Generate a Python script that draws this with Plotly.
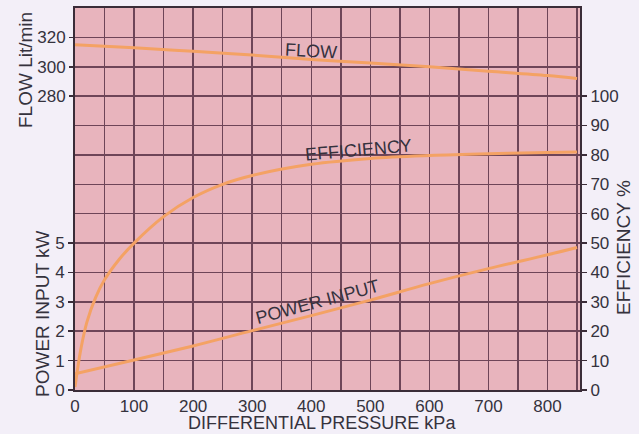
import plotly.graph_objects as go

# ---- data ----
flow_kpa = [0, 100, 200, 300, 400, 500, 600, 700, 800, 850]
flow_lpm = [315, 313, 310.5, 308, 305, 302.5, 300, 297, 294, 292]

eff_kpa = [0, 5, 10, 20, 35, 50, 75, 100, 150, 200, 250, 300, 400, 500, 600, 700, 800, 850]
eff_pct = [1, 8, 14, 23, 31.5, 37.5, 44.5, 50, 59, 65.5, 70, 73, 76.8, 78.8, 79.8, 80.4, 80.8, 81]

power_kpa = [0, 100, 200, 300, 400, 500, 600, 700, 800, 850]
power_kw = [0.55, 1.02, 1.5, 2.02, 2.53, 3.06, 3.62, 4.13, 4.6, 4.85]

x_grid = [0, 50, 100, 150, 200, 250, 300, 350, 400, 450, 500, 550, 600, 650, 700, 750, 800, 850]
x_labels = ["0", "", "100", "", "200", "", "300", "", "400", "", "500", "", "600", "",
            "700", "", "800", ""]
power_ticks = [0, 1, 2, 3, 4, 5]
flow_ticks = [280, 300, 320]
eff_ticks = [0, 10, 20, 30, 40, 50, 60, 70, 80, 90, 100]

# ---- styling ----
FONT = "Liberation Sans, Arial, Helvetica, sans-serif"
TXT = "#35323d"
BG = "#e8b4bd"
PAPER = "#f3eff8"
GRID = "#6e4558"
AXIS = "#3a2c38"
CURVE = "#f4a264"

fig = go.Figure()
fig.add_trace(go.Scatter(x=power_kpa, y=power_kw, mode="lines", yaxis="y",
                         line=dict(color=CURVE, width=3, shape="spline"), hoverinfo="skip"))
fig.add_trace(go.Scatter(x=flow_kpa, y=flow_lpm, mode="lines", yaxis="y2",
                         line=dict(color=CURVE, width=3, shape="spline"), hoverinfo="skip"))
fig.add_trace(go.Scatter(x=eff_kpa, y=eff_pct, mode="lines", yaxis="y3",
                         line=dict(color=CURVE, width=3, shape="spline", smoothing=1.0),
                         hoverinfo="skip"))

tickfont = dict(family=FONT, size=17, color=TXT)

fig.update_layout(
    template="none",
    width=639, height=434,
    margin=dict(l=75, r=59, t=8, b=44, autoexpand=False),
    paper_bgcolor=PAPER, plot_bgcolor=BG,
    showlegend=False,
    xaxis=dict(range=[0, 855], tickmode="array", tickvals=x_grid, ticktext=x_labels,
               ticks="", tickfont=tickfont, automargin=False,
               showgrid=True, gridcolor=GRID, gridwidth=1.5,
               showline=True, linecolor=AXIS, linewidth=2, mirror=True,
               zeroline=False, fixedrange=True),
    yaxis=dict(range=[0, 13], tickvals=power_ticks, ticks="outside", ticklen=5,
               tickcolor=AXIS, tickwidth=1.5, tickfont=tickfont, automargin=False,
               showgrid=False, zeroline=False,
               showline=True, linecolor=AXIS, linewidth=2),
    yaxis2=dict(range=[80, 340], tickvals=flow_ticks, ticks="outside", ticklen=5,
                tickcolor=AXIS, tickwidth=1.5, tickfont=tickfont, automargin=False,
                overlaying="y", side="left", anchor="x",
                showgrid=True, gridcolor=GRID, gridwidth=1.5, zeroline=False),
    yaxis3=dict(range=[0, 130], tickvals=eff_ticks, ticks="outside", ticklen=5,
                tickcolor=AXIS, tickwidth=1.5, tickfont=tickfont, automargin=False,
                overlaying="y", side="right", anchor="x",
                showgrid=True, gridcolor=GRID, gridwidth=1.5, zeroline=False,
                showline=True, linecolor=AXIS, linewidth=2),
)

titlefont = dict(family=FONT, size=19, color=TXT)
xtitlefont = dict(family=FONT, size=18, color=TXT)
labelfont = dict(family=FONT, size=18, color=TXT)

annotations = [
    # axis titles
    dict(text="DIFFERENTIAL PRESSURE kPa", xref="paper", yref="paper", x=(322 - 75) / 505,
         y=0, yshift=-33, xanchor="center", yanchor="middle", showarrow=False, font=xtitlefont),
    dict(text="FLOW Lit/min", xref="paper", yref="paper", x=0, xshift=-50,
         y=(390 - 70) / 382, xanchor="center", yanchor="middle", textangle=-90,
         showarrow=False, font=titlefont),
    dict(text="POWER INPUT kW", xref="paper", yref="paper", x=0, xshift=-33,
         y=(390 - 314) / 382, xanchor="center", yanchor="middle", textangle=-90,
         showarrow=False, font=titlefont),
    dict(text="EFFICIENCY %", xref="paper", yref="paper", x=1, xshift=43,
         y=(390 - 248) / 382, xanchor="center", yanchor="middle", textangle=-90,
         showarrow=False, font=titlefont),
    # curve labels
    dict(text="FLOW", xref="x", yref="y2", x=400, y=311, textangle=3,
         showarrow=False, font=labelfont),
    dict(text="EFFICIENCY", xref="x", yref="y3", x=480, y=81.6, textangle=-5,
         showarrow=False, font=labelfont),
    dict(text="POWER INPUT", xref="x", yref="y", x=410, y=3.0, textangle=-15,
         showarrow=False, font=labelfont),
]
fig.update_layout(annotations=annotations)

fig.write_html("out.html", config={"displayModeBar": False, "staticPlot": True},
               post_script="document.body.style.margin='0';document.body.style.padding='0';")
